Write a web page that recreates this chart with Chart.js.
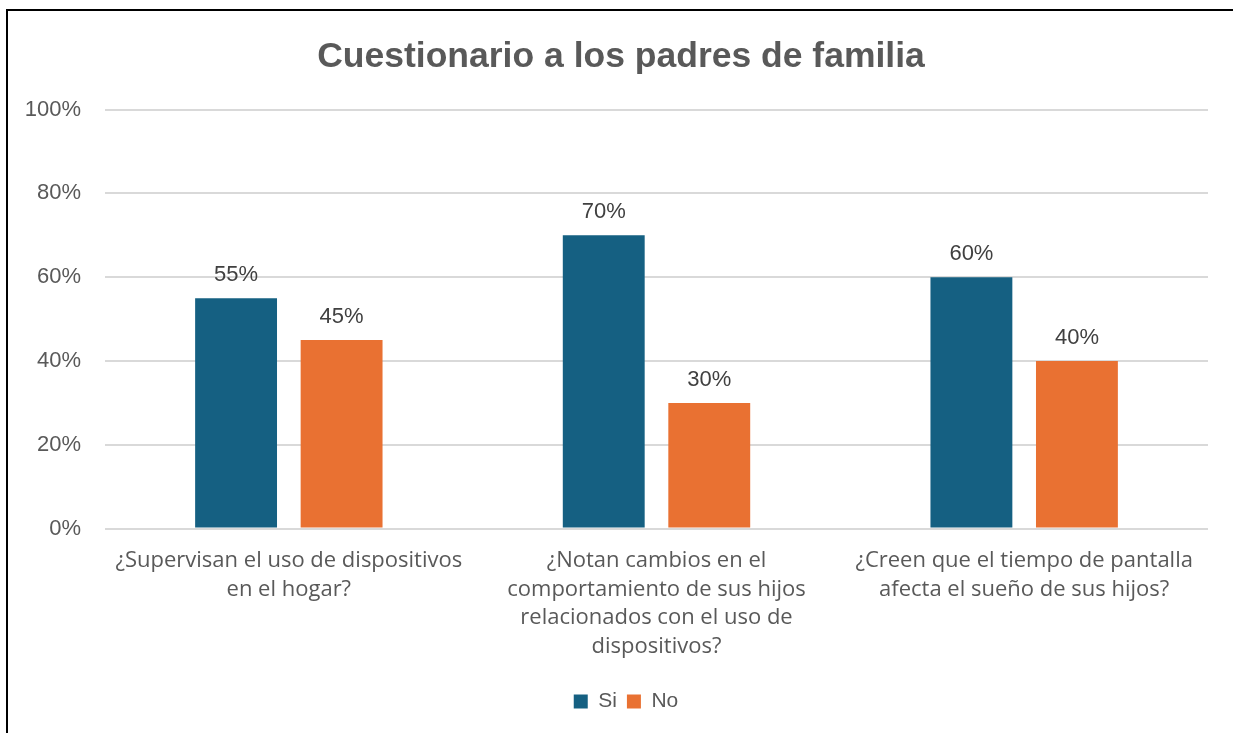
<!DOCTYPE html>
<html lang="es">
<head>
    <meta charset="UTF-8">
    <title>Cuestionario a los padres de familia</title>
    <script src="https://cdn.jsdelivr.net/npm/chart.js"></script>
    <style>
        html, body {
            margin: 0;
            padding: 0;
            background: #fff;
            overflow: hidden;
        }
        #frame {
            position: absolute;
            left: 6px;
            top: 9px;
            width: 1228px;
            height: 730px;
            border-top: 2px solid #000;
            border-left: 2px solid #000;
        }
    </style>
</head>
<body>
    <div id="frame">
        <canvas id="myChart" width="1228" height="722"></canvas>
    </div>
    <script>
        var preguntas = [
            ['¿Supervisan el uso de dispositivos', 'en el hogar?'],
            ['¿Notan cambios en el', 'comportamiento de sus hijos', 'relacionados con el uso de', 'dispositivos?'],
            ['¿Creen que el tiempo de pantalla', 'afecta el sueño de sus hijos?']
        ];
        var si = [55, 70, 60];
        var no = [45, 30, 40];
        var yTicks = [0, 20, 40, 60, 80, 100];

        // simple value labels above each bar
        var barLabels = {
            id: 'barLabels',
            afterDatasetsDraw: function(chart) {
                var ctx = chart.ctx;
                ctx.save();
                ctx.font = '22px "Liberation Sans", Arial, sans-serif';
                ctx.fillStyle = '#404040';
                ctx.textAlign = 'center';
                ctx.textBaseline = 'middle';
                chart.data.datasets.forEach(function(ds, i) {
                    chart.getDatasetMeta(i).data.forEach(function(bar, j) {
                        ctx.fillText(ds.data[j] + '%', bar.x, bar.y - 23);
                    });
                });
                ctx.restore();
            }
        };

        // nudge title and legend a bit to the right, like in the original
        var boxShift = {
            id: 'boxShift',
            afterLayout: function(chart) {
                if (chart.titleBlock) chart.titleBlock.left += 10;
                if (chart.legend) chart.legend.left += 20;
            }
        };

        var ctx = document.getElementById('myChart').getContext('2d');
        var myChart = new Chart(ctx, {
            type: 'bar',
            data: {
                labels: preguntas,
                datasets: [{
                    label: 'Si',
                    data: si,
                    backgroundColor: '#156082',
                    barPercentage: 0.776,
                    categoryPercentage: 0.574
                }, {
                    label: 'No',
                    data: no,
                    backgroundColor: '#E97132',
                    barPercentage: 0.776,
                    categoryPercentage: 0.574
                }]
            },
            options: {
                responsive: false,
                animation: false,
                layout: {
                    padding: { left: 16, right: 28, top: 25, bottom: 11 }
                },
                plugins: {
                    title: {
                        display: true,
                        text: 'Cuestionario a los padres de familia',
                        color: '#595959',
                        font: { family: '"Liberation Sans", Arial, sans-serif', size: 35.5, weight: 'bold' },
                        padding: { top: 0, bottom: 31 }
                    },
                    legend: {
                        position: 'bottom',
                        labels: {
                            color: '#595959',
                            font: { family: '"Liberation Sans", Arial, sans-serif', size: 21 },
                            boxWidth: 14,
                            boxHeight: 14,
                            padding: 10
                        }
                    },
                    tooltip: { enabled: false }
                },
                scales: {
                    x: {
                        grid: { display: false },
                        border: { display: false },
                        afterFit: function(axis) {
                            axis.height += 10;
                        },
                        ticks: {
                            color: '#595959',
                            font: { family: '"Open Sans", sans-serif', size: 22, lineHeight: 1.3 },
                            padding: 10,
                            maxRotation: 0
                        }
                    },
                    y: {
                        min: 0,
                        max: 100,
                        afterBuildTicks: function(axis) {
                            axis.ticks = yTicks.map(function(v) { return { value: v }; });
                        },
                        afterFit: function(axis) {
                            axis.width = 81;
                        },
                        grid: { color: '#d9d9d9', lineWidth: 2, drawTicks: false },
                        border: { display: false },
                        ticks: {
                            color: '#595959',
                            font: { family: '"Liberation Sans", Arial, sans-serif', size: 22 },
                            padding: 24,
                            callback: function(v) { return v + '%'; }
                        }
                    }
                }
            },
            plugins: [barLabels, boxShift]
        });
    </script>
</body>
</html>
